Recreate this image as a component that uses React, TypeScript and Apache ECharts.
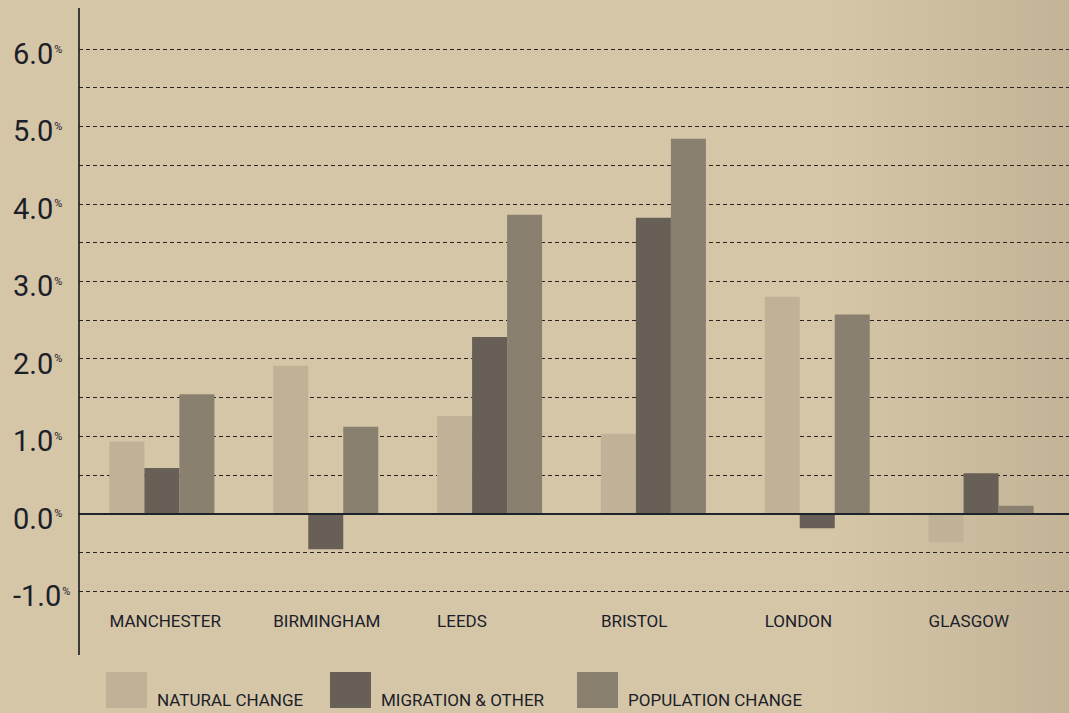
import React, { useEffect, useRef } from "react";
import * as echarts from "echarts";

// Cities shown along the category axis
const cities = ["MANCHESTER", "BIRMINGHAM", "LEEDS", "BRISTOL", "LONDON", "GLASGOW"];

// Percentage change per city
const naturalChange = [0.93, 1.91, 1.26, 1.03, 2.8, -0.37];
const migrationOther = [0.59, -0.46, 2.28, 3.82, -0.19, 0.52];
const populationChange = [1.54, 1.12, 3.86, 4.84, 2.57, 0.1];

const seriesNames = ["NATURAL CHANGE", "MIGRATION & OTHER", "POPULATION CHANGE"];
const seriesColors = ["#c0b297", "#686056", "#8a806f"];

const yMin = -1;
const yMax = 6;
const yStep = 0.5;

const textColor = "#1b2028";
const labelFont = "Roboto, sans-serif";

export default function App() {
  const ref = useRef<HTMLDivElement>(null);

  useEffect(() => {
    if (!ref.current) return;
    const chart = echarts.init(ref.current, null, { renderer: "svg" });

    const values = [naturalChange, migrationOther, populationChange];

    chart.setOption({
      animation: false,
      backgroundColor: "transparent",
      grid: [
        // bars
        { left: 80, right: 6, top: 49, height: 542 },
        // dashed guides + zero line spanning full width
        { left: 79, right: 0, top: 49, height: 542 },
      ],
      xAxis: [
        {
          type: "category",
          gridIndex: 0,
          data: cities,
          axisLine: { show: false },
          axisTick: { show: false },
          splitLine: { show: false },
          axisLabel: {
            margin: 21,
            align: "center",
            formatter: (v: string) => `{c|${v}}`,
            rich: {
              c: {
                width: 105,
                align: "left",
                fontFamily: labelFont,
                fontSize: 17,
                color: textColor,
              },
            },
          },
        },
        {
          type: "value",
          gridIndex: 1,
          min: 0,
          max: 1,
          z: 5,
          axisLine: { show: true, onZero: true, lineStyle: { color: "#1d232b", width: 2 } },
          axisTick: { show: false },
          axisLabel: { show: false },
          splitLine: { show: false },
        },
      ],
      yAxis: [
        {
          type: "value",
          gridIndex: 0,
          min: yMin,
          max: yMax,
          interval: yStep,
          axisLine: { show: false },
          axisTick: { show: false },
          splitLine: { show: false },
          axisLabel: {
            align: "left",
            margin: 67,
            formatter: (v: number) =>
              Math.abs(v % 1) < 1e-9 ? `{n|${v.toFixed(1)}}{p|%}` : "",
            rich: {
              n: {
                fontFamily: "Roboto, sans-serif",
                fontSize: 29,
                color: textColor,
                padding: [10, 0, 0, 0],
              },
              p: {
                fontFamily: "Roboto, sans-serif",
                fontSize: 11,
                color: textColor,
                verticalAlign: "top",
                padding: [14, 0, 0, 1],
              },
            },
          },
        },
        {
          type: "value",
          gridIndex: 1,
          min: yMin,
          max: yMax,
          interval: yStep,
          axisLine: { show: false },
          axisTick: { show: false },
          axisLabel: { show: false },
          splitLine: {
            show: true,
            lineStyle: { color: "#2a2520", width: 1, type: [4, 3] },
          },
        },
      ],
      legend: seriesNames.map((name, i) => ({
        data: [name],
        left: [106, 330, 577][i],
        top: 672,
        padding: 0,
        itemWidth: 41,
        itemHeight: 36,
        icon: "rect",
        selectedMode: false,
        formatter: (n: string) => `{t|${n}}`,
        textStyle: {
          fontFamily: labelFont,
          fontSize: 17,
          color: textColor,
          rich: {
            t: {
              fontFamily: labelFont,
              fontSize: 17,
              color: textColor,
              padding: [20, 0, 0, 5],
            },
          },
        },
      })),
      series: seriesNames.map((name, i) => ({
        name,
        type: "bar",
        xAxisIndex: 0,
        yAxisIndex: 0,
        data: values[i],
        barWidth: 35,
        barGap: "0%",
        itemStyle: { color: seriesColors[i] },
      })),
      graphic: [
        {
          type: "line",
          shape: { x1: 79, y1: 8, x2: 79, y2: 655 },
          style: { stroke: "#15181c", lineWidth: 1.6 },
          z: 10,
        },
      ],
    });

    return () => chart.dispose();
  }, []);

  return (
    <div
      style={{
        position: "fixed",
        left: 0,
        top: 0,
        width: 1069,
        height: 713,
        background:
          "linear-gradient(to right, #d5c6a8 0%, #d5c6a8 78%, #c3b497 100%)",
      }}
    >
      <div ref={ref} style={{ width: 1069, height: 713 }} />
    </div>
  );
}
